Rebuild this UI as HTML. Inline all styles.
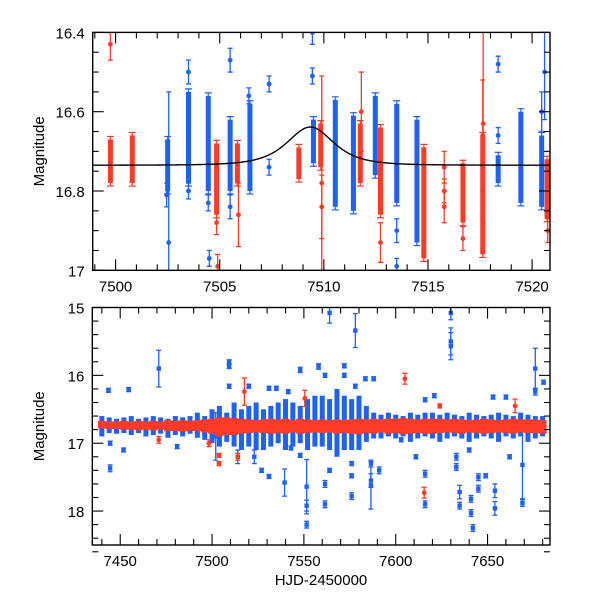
<!DOCTYPE html>
<html><head><meta charset="utf-8"><style>
html,body{margin:0;padding:0;background:#fff}
svg{display:block}
text{font-family:"Liberation Sans",sans-serif;fill:#000}
</style></head><body>
<svg id="chart" width="600" height="600" viewBox="0 0 600 600">
<g id="top"></g>
<g id="bot"></g>
</svg>
<script>
// ---- top panel data ----
const topT   = [7499.75,7500.8,7502.5,7503.5,7504.45,7504.85,7505.5,7505.85,7506.45,7508.8,7509.5,7509.85,7510.55,7511.42,7511.75,7512.47,7512.72,7513.5,7514.47,7514.8,7516.68,7517.63,7518.37,7519.46,7520.46,7520.72];
const topC   = ['r','r','b','b','b','r','b','r','b','r','b','r','b','b','r','b','r','b','b','r','r','r','b','b','b','r'];
const topLo  = [16.67,16.66,16.67,16.55,16.56,16.68,16.62,16.68,16.58,16.69,16.62,16.63,16.57,16.61,16.63,16.56,16.64,16.58,16.62,16.69,16.73,16.66,16.71,16.60,16.66,16.72];
const topHi  = [16.78,16.78,16.80,16.78,16.80,16.86,16.80,16.78,16.80,16.77,16.73,16.74,16.84,16.85,16.78,16.76,16.86,16.83,16.93,16.97,16.88,16.96,16.78,16.83,16.84,16.87];
const topOT  = [7499.75,7502.55,7502.45,7503.5,7503.5,7504.45,7504.5,7504.85,7504.9,7505.5,7505.5,7505.9,7506.4,7507.37,7507.37,7509.45,7509.45,7509.9,7509.9,7511.8,7513.5,7513.5,7512.72,7515.78,7515.78,7515.78,7516.68,7517.63,7517.65,7518.37,7518.37,7520.46,7520.6,7520.75];
const topOC  = ['r','b','b','b','b','b','b','r','r','b','b','r','b','b','b','b','b','r','r','r','b','b','r','r','r','r','r','r','r','b','b','b','b','r'];
const topOM  = [16.43,16.93,16.81,16.50,16.80,16.83,16.97,16.88,16.99,16.47,16.84,16.86,16.56,16.53,16.74,16.51,16.40,16.78,16.84,16.60,16.90,16.99,16.93,16.74,16.80,16.84,16.92,16.66,16.63,16.48,16.66,16.60,16.50,16.90];
const topOE  = [0.04,0.38,0.03,0.03,0.02,0.02,0.02,0.03,0.03,0.03,0.03,0.08,0.02,0.02,0.02,0.02,0.03,0.27,0.08,0.10,0.03,0.02,0.05,0.04,0.03,0.04,0.03,0.14,0.25,0.02,0.02,0.05,0.12,0.03];
const modelPar = [7509.35, 1.72, 0.96, 16.735]; // t0, u0, tE, baseline
const topXTicks = [7500,7505,7510,7515,7520];
const topYTicks = [16.4,16.6,16.8,17];
const topYLabels = ['16.4','16.6','16.8','17'];

// ---- bottom panel data ----
const botT = [7440,7444,7448,7452,7456,7460,7464,7468,7472,7476,7480,7484,7488,7492,7496,7500,7504,7508,7512,7516,7520,7524,7528,7532,7536,7540,7544,7548,7552,7556,7560,7564,7568,7572,7576,7580,7584,7588,7592,7596,7600,7604,7608,7612,7616,7620,7624,7628,7632,7636,7640,7644,7648,7652,7656,7660,7664,7668,7672,7676,7680];
const blueLo = [16.6,16.62,16.64,16.62,16.6,16.64,16.62,16.6,16.62,16.64,16.6,16.62,16.6,16.55,16.6,16.5,16.45,16.55,16.4,16.5,16.45,16.4,16.5,16.45,16.4,16.35,16.4,16.45,16.35,16.3,16.3,16.35,16.2,16.3,16.35,16.3,16.45,16.55,16.58,16.55,16.58,16.6,16.55,16.58,16.55,16.55,16.58,16.55,16.58,16.6,16.55,16.58,16.6,16.58,16.55,16.58,16.6,16.55,16.58,16.6,16.6];
const blueHi = [16.9,16.85,16.86,16.85,16.88,16.85,16.9,16.88,16.86,16.92,16.88,16.9,16.86,16.92,16.95,17.0,17.05,16.98,17.05,17.1,17.05,17.1,17.1,17.05,17.0,17.1,17.05,17.0,17.1,17.05,17.05,17.1,17.2,17.1,17.1,17.1,16.98,16.93,16.93,16.9,16.93,16.9,16.98,16.93,16.9,16.93,16.98,16.93,16.9,16.93,16.98,16.93,16.9,16.93,16.98,16.9,16.93,16.9,16.98,16.93,16.9];
const redLo = [16.67,16.68,16.68,16.67,16.68,16.67,16.68,16.67,16.68,16.66,16.67,16.66,16.67,16.66,16.65,16.64,16.62,16.62,16.63,16.64,16.65,16.66,16.65,16.64,16.65,16.64,16.66,16.64,16.65,16.66,16.65,16.66,16.65,16.66,16.65,16.64,16.65,16.64,16.65,16.64,16.64,16.63,16.64,16.65,16.64,16.64,16.64,16.65,16.64,16.65,16.66,16.65,16.64,16.65,16.66,16.65,16.64,16.65,16.65,16.65,16.66];
const redHi = [16.78,16.79,16.79,16.8,16.8,16.81,16.8,16.81,16.8,16.82,16.82,16.83,16.82,16.82,16.84,16.86,16.9,16.88,16.88,16.86,16.85,16.84,16.85,16.86,16.85,16.86,16.84,16.86,16.85,16.84,16.85,16.84,16.86,16.85,16.86,16.87,16.85,16.86,16.84,16.86,16.85,16.87,16.86,16.85,16.86,16.86,16.85,16.84,16.85,16.86,16.84,16.85,16.86,16.85,16.84,16.85,16.86,16.84,16.85,16.85,16.86];
const botOT = [7443.6,7454.6,7471,7444.5,7444.5,7451.8,7481,7509.3,7509.3,7509.3,7520,7531,7535,7541.5,7548,7558,7561.5,7564,7539.5,7531,7527,7551.5,7551.5,7551.5,7561.5,7561.5,7564,7523,7543,7548,7502,7514,7578,7630,7630,7630,7676,7676,7680.5,7572,7572,7578,7583.5,7588,7616,7621,7653,7660,7576,7576,7576,7586.5,7586.5,7586.5,7591,7616,7616,7634.8,7634.8,7641,7641,7642,7645,7645,7649,7654,7654,7669,7669,7633,7633,7640,7662,7611,7603];
const botOM = [16.22,16.21,15.9,17.37,17.0,17.1,17.05,15.8,15.87,16.16,16.16,16.19,16.19,16.24,15.92,15.87,16.0,15.08,17.58,17.49,17.4,17.64,17.92,18.2,17.6,17.9,17.4,17.2,17.07,17.18,16.9,17.2,15.34,15.08,15.5,15.57,15.9,16.24,16.1,15.86,16.0,16.16,16.05,16.05,16.36,16.3,16.32,16.32,17.3,17.48,17.78,17.55,17.3,17.62,17.4,17.45,17.9,17.72,17.92,17.82,18.03,18.25,17.67,17.5,17.48,17.7,17.96,17.32,17.88,17.2,17.35,17.1,17.2,17.2,16.95];
const botOE = [0.03,0.03,0.27,0.05,0.03,0.03,0.03,0.03,0.03,0.03,0.03,0.03,0.03,0.03,0.04,0.04,0.03,0.15,0.2,0.03,0.03,0.4,0.08,0.05,0.05,0.05,0.03,0.1,0.03,0.03,0.35,0.1,0.25,0.1,0.2,0.2,0.3,0.05,0.03,0.03,0.03,0.03,0.03,0.03,0.03,0.03,0.03,0.03,0.03,0.03,0.05,0.1,0.05,0.35,0.05,0.05,0.05,0.1,0.05,0.05,0.05,0.05,0.05,0.05,0.03,0.1,0.1,0.5,0.05,0.05,0.05,0.03,0.03,0.03,0.03];
const redOT = [7517.6,7550.5,7605,7624,7665,7503.8,7503.8,7498.3,7471,7514,7615.5,7440];
const redOM = [16.24,16.34,16.05,16.45,16.45,17.3,17.18,17.0,16.95,17.2,17.73,16.72];
const redOE = [0.2,0.12,0.08,0.03,0.1,0.03,0.03,0.05,0.05,0.05,0.08,0.03];
const botXTicks = [7450,7500,7550,7600,7650];
const botYTicks = [15,16,17,18];

const NS='http://www.w3.org/2000/svg';
const COL={b:'#1f60f5',r:'#ff3a26'};
function mk(par,tag,att){const e=document.createElementNS(NS,tag);for(const k in att)e.setAttribute(k,att[k]);par.appendChild(e);return e;}

const TP={x0:92.7,x1:550,y0:32.4,y1:270.3,t0:7498.9,t1:7520.86,m0:16.4,m1:17};
const BP={x0:92.3,x1:550,y0:307.5,y1:545,t0:7434.8,t1:7684,m0:15,m1:18.5};
function sx(P,t){return P.x0+(t-P.t0)/(P.t1-P.t0)*(P.x1-P.x0);}
function sy(P,m){return P.y0+(m-P.m0)/(P.m1-P.m0)*(P.y1-P.y0);}

function errPt(g,P,t,m,e,c,shape){
  const x=sx(P,t);
  const l=mk(g,'line',{x1:x,x2:x,y1:sy(P,m-e),y2:sy(P,m+e),stroke:COL[c],'stroke-width':1.3});
  
  
  [m-e,m+e].forEach(v=>{const cp=mk(g,'line',{x1:x-2.5,x2:x+2.5,y1:sy(P,v),y2:sy(P,v),stroke:COL[c],'stroke-width':1.3});
    
    });
  let d;
  if(shape==='sq') d=mk(g,'rect',{x:x-2.2,y:sy(P,m)-2.2,width:4.4,height:4.4,fill:COL[c]});
  else d=mk(g,'circle',{cx:x,cy:sy(P,m),r:2.4,fill:COL[c]});
  
  
}
function band(g,P,t,lo,hi,c,w,caps){
  const x=sx(P,t);
  const r=mk(g,'rect',{x:x-w/2,y:sy(P,lo),width:w,height:sy(P,hi)-sy(P,lo),fill:COL[c]});
  
  
  if(!caps) return;
  [lo,hi].forEach((v,i)=>{const yy=sy(P,v)+(i?3:-3);
    const cp=mk(g,'line',{x1:x-w/2-1,x2:x+w/2+1,y1:yy,y2:yy,stroke:COL[c],'stroke-width':1.2});
    
    
    const wl=mk(g,'line',{x1:x,x2:x,y1:yy,y2:sy(P,v),stroke:COL[c],'stroke-width':1.2});
    
    });
}
function axes(g,P,xMinor,xMajor,yMinor,yMajor){
  const f=mk(g,'rect',{x:P.x0,y:P.y0,width:P.x1-P.x0,height:P.y1-P.y0,fill:'none',stroke:'#000','stroke-width':1.4});
  
  
  const tg=mk(g,'g',{stroke:'#000','stroke-width':1.1});
  
  
  for(let t=Math.ceil(P.t0/xMinor)*xMinor;t<=P.t1;t+=xMinor){
    const maj=Math.abs(t/xMajor-Math.round(t/xMajor))<1e-6; const L=maj?11:6; const x=sx(P,t);
    mk(tg,'line',{x1:x,x2:x,y1:P.y1,y2:P.y1-L}); mk(tg,'line',{x1:x,x2:x,y1:P.y0,y2:P.y0+L});
  }
  const n=Math.round((P.m1-P.m0)/yMinor);
  for(let i=0;i<=n;i++){const m=P.m0+i*yMinor;
    const maj=Math.abs(m/yMajor-Math.round(m/yMajor))<1e-6; const L=maj?11:6; const y=sy(P,m);
    mk(tg,'line',{x1:P.x0,x2:P.x0+L,y1:y,y2:y}); mk(tg,'line',{x1:P.x1,x2:P.x1-L,y1:y,y2:y});
  }
}
function labels(g,P,xt,yt,ylab){
  xt.forEach(t=>{const e=mk(g,'text',{x:sx(P,t),y:P.y1+21,'text-anchor':'middle','font-size':15});e.textContent=String(t);
    
    });
  yt.forEach((m,i)=>{const e=mk(g,'text',{x:P.x0-8,y:sy(P,m)+6,'text-anchor':'end','font-size':15});e.textContent=ylab[i];
    
    });
  const cy=(P.y0+P.y1)/2;
  const yl=mk(g,'text',{x:0,y:0,'text-anchor':'middle','font-size':15,transform:`translate(44,${cy}) rotate(-90)`});
  yl.textContent='Magnitude';
  
  
}

// ---- top panel ----
const gt=document.getElementById('top');
const clipT=mk(gt,'clipPath',{id:'ct'}); mk(clipT,'rect',{x:TP.x0,y:TP.y0,width:TP.x1-TP.x0,height:TP.y1-TP.y0});
const dt=mk(gt,'g',{'clip-path':'url(#ct)'});


for(let i=0;i<topT.length;i++) band(dt,TP,topT[i],topLo[i],topHi[i],topC[i],5,true);
for(let i=0;i<topOT.length;i++) errPt(dt,TP,topOT[i],topOM[i],topOE[i],topOC[i]);
(function(){const [t0,u0,tE,base]=modelPar;let d='';
  for(let x=TP.x0;x<=TP.x1;x+=1){const t=TP.t0+(x-TP.x0)/(TP.x1-TP.x0)*(TP.t1-TP.t0);
    const u=Math.sqrt(u0*u0+Math.pow((t-t0)/tE,2));const A=(u*u+2)/(u*Math.sqrt(u*u+4));
    const m=base-2.5*Math.log10(A);d+=(d?'L':'M')+x.toFixed(1)+','+sy(TP,m).toFixed(2);}
  const p=mk(dt,'path',{d:d,fill:'none',stroke:'#000','stroke-width':1.4});
  
  })();
axes(gt,TP,1,5,0.05,0.2);
labels(gt,TP,topXTicks,topYTicks,topYLabels);

// ---- bottom panel ----
const gb=document.getElementById('bot');
const clipB=mk(gb,'clipPath',{id:'cb'}); mk(clipB,'rect',{x:BP.x0,y:BP.y0,width:BP.x1-BP.x0,height:BP.y1-BP.y0});
const db=mk(gb,'g',{'clip-path':'url(#cb)'});


for(let i=0;i<botT.length;i++) band(db,BP,botT[i],blueLo[i],blueHi[i],'b',5,false);
for(let i=0;i<botOT.length;i++) errPt(db,BP,botOT[i],botOM[i],botOE[i],'b','sq');
for(let i=0;i<botT.length;i++) band(db,BP,botT[i],redLo[i],redHi[i],'r',7.8,false);
for(let i=0;i<redOT.length;i++) errPt(db,BP,redOT[i],redOM[i],redOE[i],'r');
axes(gb,BP,10,50,0.2,1);
labels(gb,BP,botXTicks,botYTicks,botYTicks.map(String));
const xt=mk(gb,'text',{x:321,y:585,'text-anchor':'middle','font-size':15,'font-family':'Liberation Mono, monospace'});
xt.textContent='HJD-2450000';


</script>
</body></html>
